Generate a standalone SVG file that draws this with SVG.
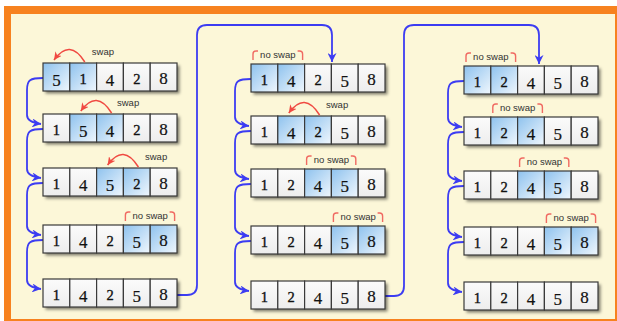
<svg xmlns="http://www.w3.org/2000/svg" width="617" height="321" viewBox="0 0 617 321">
<defs>
<style>
.c{fill:url(#gc);stroke:#3a3a3a;stroke-width:1.2}
.h{fill:url(#gh);stroke:#3a3a3a;stroke-width:1.2}
.bk{fill:#ddd;filter:url(#sh)}
.n1{font-family:"Liberation Serif",serif;font-size:14.5px;fill:#111;stroke:#111;stroke-width:0.35;text-anchor:middle}
.n4{font-family:"Liberation Serif",serif;font-size:17px;fill:#111;stroke:#111;stroke-width:0.2;text-anchor:middle}
.n8{font-family:"Liberation Serif",serif;font-size:17px;fill:#111;stroke:#111;stroke-width:0.2;text-anchor:middle}
.lb{font-family:"Liberation Sans",sans-serif;font-size:9.5px;fill:#333}
.lm{font-family:"Liberation Sans",sans-serif;font-size:9.5px;fill:#333;text-anchor:middle}
.sw{fill:none;stroke:#f04a42;stroke-width:1.5;marker-end:url(#ra)}
.br{fill:none;stroke:#f06a62;stroke-width:1.4}
.bl{fill:none;stroke:#3c3cf2;stroke-width:1.8;marker-end:url(#ba)}
</style>
<linearGradient id="gc" x1="0" y1="0" x2="0" y2="1"><stop offset="0" stop-color="#fbfbfb"/><stop offset="1" stop-color="#ededed"/></linearGradient>
<linearGradient id="gh" x1="0" y1="0" x2="1" y2="1"><stop offset="0" stop-color="#8ec2ee"/><stop offset="1" stop-color="#f0f7fd"/></linearGradient>
<filter id="sh" x="-10%" y="-20%" width="130%" height="160%"><feDropShadow dx="2.5" dy="2.5" stdDeviation="1.5" flood-color="#000" flood-opacity="0.5"/></filter>
<marker id="ba" viewBox="0 0 10 10" refX="10" refY="5" markerUnits="userSpaceOnUse" markerWidth="9" markerHeight="9" orient="auto"><path d="M0,0 L10,5 L0,10 L3,5 z" fill="#3c3cf2"/></marker>
<marker id="ra" viewBox="0 0 10 10" refX="10" refY="5" markerUnits="userSpaceOnUse" markerWidth="8" markerHeight="8" orient="auto"><path d="M0,0 L10,5 L0,10 L3,5 z" fill="#f04a42"/></marker>
</defs>
<rect width="617" height="321" fill="#fff"/>
<rect x="4" y="6" width="613" height="315" fill="#f7821f"/>
<rect x="11" y="14" width="604" height="305" fill="#fcf7d8"/>

<g id="connectors">
<path class="bl" d="M43,78 C30,78 27,80 27,90 V115 C27,120 33,123 41,124"/>
<path class="bl" d="M43,129 C30,129 27,131 27,141 V169 C27,174 33,177 41,178"/>
<path class="bl" d="M43,183 C30,183 27,185 27,195 V226 C27,231 33,234 41,235"/>
<path class="bl" d="M43,240 C30,240 27,242 27,252 V280 C27,285 33,288 41,289"/>
<path class="bl" d="M251,79 C238,79 235,81 235,91 V117 C235,122 241,125 249,126"/>
<path class="bl" d="M251,131 C238,131 235,133 235,143 V170 C235,175 241,178 249,179"/>
<path class="bl" d="M251,184 C238,184 235,186 235,196 V227 C235,232 241,235 249,236"/>
<path class="bl" d="M251,241 C238,241 235,243 235,253 V282 C235,287 241,290 249,291"/>
<path class="bl" d="M464,81 C451,81 448,83 448,93 V118 C448,123 454,126 462,127"/>
<path class="bl" d="M464,132 C451,132 448,134 448,144 V172 C448,177 454,180 462,181"/>
<path class="bl" d="M464,186 C451,186 448,188 448,198 V228 C448,233 454,236 462,237"/>
<path class="bl" d="M464,242 C451,242 448,244 448,254 V283 C448,288 454,291 462,292"/>
<path class="bl" d="M177,295 H187 Q197,295 197,285 V35 Q197,25 207,25 H322 Q332,25 332,35 V62"/>
<path class="bl" d="M385,296 H394 Q404,296 404,286 V35 Q404,25 414,25 H529 Q539,25 539,35 V64"/>
</g>

<!-- Column 1 -->
<g id="c1r1" transform="translate(43,63)">
<rect class="bk" width="134" height="28"/>
<rect class="h" x="0" width="26.8" height="28"/><rect class="h" x="26.8" width="26.8" height="28"/><rect class="c" x="53.6" width="26.8" height="28"/><rect class="c" x="80.4" width="26.8" height="28"/><rect class="c" x="107.2" width="26.8" height="28"/>
<text class="n4" x="13.4" y="23">5</text><text class="n1" x="40.2" y="21">1</text><text class="n4" x="67" y="23">4</text><text class="n1" x="93.8" y="21">2</text><text class="n8" x="120.6" y="21">8</text>
<path class="sw" d="M41.8,-1 Q26.8,-25 11,-3"/><text class="lb" x="48.8" y="-8">swap</text>
</g>
<g id="c1r2" transform="translate(43,114)">
<rect class="bk" width="134" height="28"/>
<rect class="c" x="0" width="26.8" height="28"/><rect class="h" x="26.8" width="26.8" height="28"/><rect class="h" x="53.6" width="26.8" height="28"/><rect class="c" x="80.4" width="26.8" height="28"/><rect class="c" x="107.2" width="26.8" height="28"/>
<text class="n1" x="13.4" y="21">1</text><text class="n4" x="40.2" y="23">5</text><text class="n4" x="67" y="23">4</text><text class="n1" x="93.8" y="21">2</text><text class="n8" x="120.6" y="21">8</text>
<path class="sw" d="M68.6,-1 Q53.6,-25 37.8,-3"/><text class="lb" x="74" y="-8">swap</text>
</g>
<g id="c1r3" transform="translate(43,168)">
<rect class="bk" width="134" height="28"/>
<rect class="c" x="0" width="26.8" height="28"/><rect class="c" x="26.8" width="26.8" height="28"/><rect class="h" x="53.6" width="26.8" height="28"/><rect class="h" x="80.4" width="26.8" height="28"/><rect class="c" x="107.2" width="26.8" height="28"/>
<text class="n1" x="13.4" y="21">1</text><text class="n4" x="40.2" y="23">4</text><text class="n4" x="67" y="23">5</text><text class="n1" x="93.8" y="21">2</text><text class="n8" x="120.6" y="21">8</text>
<path class="sw" d="M95.4,-1 Q80.4,-25 64.6,-3"/><text class="lb" x="102" y="-8">swap</text>
</g>
<g id="c1r4" transform="translate(43,225)">
<rect class="bk" width="134" height="28"/>
<rect class="c" x="0" width="26.8" height="28"/><rect class="c" x="26.8" width="26.8" height="28"/><rect class="c" x="53.6" width="26.8" height="28"/><rect class="h" x="80.4" width="26.8" height="28"/><rect class="h" x="107.2" width="26.8" height="28"/>
<text class="n1" x="13.4" y="21">1</text><text class="n4" x="40.2" y="23">4</text><text class="n1" x="67" y="21">2</text><text class="n4" x="93.8" y="23">5</text><text class="n8" x="120.6" y="21">8</text>
<path class="br" d="M82.4,-4 V-10 Q82.4,-13 85.4,-13 H87.4 M131.6,-4 V-10 Q131.6,-13 128.6,-13 H126.6"/><text class="lm" x="107.2" y="-6">no swap</text>
</g>
<g id="c1r5" transform="translate(43,279)">
<rect class="bk" width="134" height="28"/>
<rect class="c" x="0" width="26.8" height="28"/><rect class="c" x="26.8" width="26.8" height="28"/><rect class="c" x="53.6" width="26.8" height="28"/><rect class="c" x="80.4" width="26.8" height="28"/><rect class="c" x="107.2" width="26.8" height="28"/>
<text class="n1" x="13.4" y="21">1</text><text class="n4" x="40.2" y="23">4</text><text class="n1" x="67" y="21">2</text><text class="n4" x="93.8" y="23">5</text><text class="n8" x="120.6" y="21">8</text>
</g>

<!-- Column 2 -->
<g id="c2r1" transform="translate(251,64)">
<rect class="bk" width="134" height="28"/>
<rect class="h" x="0" width="26.8" height="28"/><rect class="h" x="26.8" width="26.8" height="28"/><rect class="c" x="53.6" width="26.8" height="28"/><rect class="c" x="80.4" width="26.8" height="28"/><rect class="c" x="107.2" width="26.8" height="28"/>
<text class="n1" x="13.4" y="21">1</text><text class="n4" x="40.2" y="23">4</text><text class="n1" x="67" y="21">2</text><text class="n4" x="93.8" y="23">5</text><text class="n8" x="120.6" y="21">8</text>
<path class="br" d="M2,-4 V-10 Q2,-13 5,-13 H7 M51.6,-4 V-10 Q51.6,-13 48.6,-13 H46.6"/><text class="lm" x="26.8" y="-6">no swap</text>
</g>
<g id="c2r2" transform="translate(251,116)">
<rect class="bk" width="134" height="28"/>
<rect class="c" x="0" width="26.8" height="28"/><rect class="h" x="26.8" width="26.8" height="28"/><rect class="h" x="53.6" width="26.8" height="28"/><rect class="c" x="80.4" width="26.8" height="28"/><rect class="c" x="107.2" width="26.8" height="28"/>
<text class="n1" x="13.4" y="21">1</text><text class="n4" x="40.2" y="23">4</text><text class="n1" x="67" y="21">2</text><text class="n4" x="93.8" y="23">5</text><text class="n8" x="120.6" y="21">8</text>
<path class="sw" d="M68.6,-1 Q53.6,-25 37.8,-3"/><text class="lb" x="75" y="-8">swap</text>
</g>
<g id="c2r3" transform="translate(251,169)">
<rect class="bk" width="134" height="28"/>
<rect class="c" x="0" width="26.8" height="28"/><rect class="c" x="26.8" width="26.8" height="28"/><rect class="h" x="53.6" width="26.8" height="28"/><rect class="h" x="80.4" width="26.8" height="28"/><rect class="c" x="107.2" width="26.8" height="28"/>
<text class="n1" x="13.4" y="21">1</text><text class="n1" x="40.2" y="21">2</text><text class="n4" x="67" y="23">4</text><text class="n4" x="93.8" y="23">5</text><text class="n8" x="120.6" y="21">8</text>
<path class="br" d="M55.6,-4 V-10 Q55.6,-13 58.6,-13 H60.6 M104.8,-4 V-10 Q104.8,-13 101.8,-13 H99.8"/><text class="lm" x="80.4" y="-6">no swap</text>
</g>
<g id="c2r4" transform="translate(251,226)">
<rect class="bk" width="134" height="28"/>
<rect class="c" x="0" width="26.8" height="28"/><rect class="c" x="26.8" width="26.8" height="28"/><rect class="c" x="53.6" width="26.8" height="28"/><rect class="h" x="80.4" width="26.8" height="28"/><rect class="h" x="107.2" width="26.8" height="28"/>
<text class="n1" x="13.4" y="21">1</text><text class="n1" x="40.2" y="21">2</text><text class="n4" x="67" y="23">4</text><text class="n4" x="93.8" y="23">5</text><text class="n8" x="120.6" y="21">8</text>
<path class="br" d="M82.4,-4 V-10 Q82.4,-13 85.4,-13 H87.4 M131.6,-4 V-10 Q131.6,-13 128.6,-13 H126.6"/><text class="lm" x="107.2" y="-6">no swap</text>
</g>
<g id="c2r5" transform="translate(251,281)">
<rect class="bk" width="134" height="28"/>
<rect class="c" x="0" width="26.8" height="28"/><rect class="c" x="26.8" width="26.8" height="28"/><rect class="c" x="53.6" width="26.8" height="28"/><rect class="c" x="80.4" width="26.8" height="28"/><rect class="c" x="107.2" width="26.8" height="28"/>
<text class="n1" x="13.4" y="21">1</text><text class="n1" x="40.2" y="21">2</text><text class="n4" x="67" y="23">4</text><text class="n4" x="93.8" y="23">5</text><text class="n8" x="120.6" y="21">8</text>
</g>

<!-- Column 3 -->
<g id="c3r1" transform="translate(464,66)">
<rect class="bk" width="134" height="28"/>
<rect class="h" x="0" width="26.8" height="28"/><rect class="h" x="26.8" width="26.8" height="28"/><rect class="c" x="53.6" width="26.8" height="28"/><rect class="c" x="80.4" width="26.8" height="28"/><rect class="c" x="107.2" width="26.8" height="28"/>
<text class="n1" x="13.4" y="21">1</text><text class="n1" x="40.2" y="21">2</text><text class="n4" x="67" y="23">4</text><text class="n4" x="93.8" y="23">5</text><text class="n8" x="120.6" y="21">8</text>
<path class="br" d="M2,-4 V-10 Q2,-13 5,-13 H7 M51.6,-4 V-10 Q51.6,-13 48.6,-13 H46.6"/><text class="lm" x="26.8" y="-6">no swap</text>
</g>
<g id="c3r2" transform="translate(464,117)">
<rect class="bk" width="134" height="28"/>
<rect class="c" x="0" width="26.8" height="28"/><rect class="h" x="26.8" width="26.8" height="28"/><rect class="h" x="53.6" width="26.8" height="28"/><rect class="c" x="80.4" width="26.8" height="28"/><rect class="c" x="107.2" width="26.8" height="28"/>
<text class="n1" x="13.4" y="21">1</text><text class="n1" x="40.2" y="21">2</text><text class="n4" x="67" y="23">4</text><text class="n4" x="93.8" y="23">5</text><text class="n8" x="120.6" y="21">8</text>
<path class="br" d="M28.8,-4 V-10 Q28.8,-13 31.8,-13 H33.8 M78.4,-4 V-10 Q78.4,-13 75.4,-13 H73.4"/><text class="lm" x="53.6" y="-6">no swap</text>
</g>
<g id="c3r3" transform="translate(464,171)">
<rect class="bk" width="134" height="28"/>
<rect class="c" x="0" width="26.8" height="28"/><rect class="c" x="26.8" width="26.8" height="28"/><rect class="h" x="53.6" width="26.8" height="28"/><rect class="h" x="80.4" width="26.8" height="28"/><rect class="c" x="107.2" width="26.8" height="28"/>
<text class="n1" x="13.4" y="21">1</text><text class="n1" x="40.2" y="21">2</text><text class="n4" x="67" y="23">4</text><text class="n4" x="93.8" y="23">5</text><text class="n8" x="120.6" y="21">8</text>
<path class="br" d="M55.6,-4 V-10 Q55.6,-13 58.6,-13 H60.6 M104.8,-4 V-10 Q104.8,-13 101.8,-13 H99.8"/><text class="lm" x="80.4" y="-6">no swap</text>
</g>
<g id="c3r4" transform="translate(464,227)">
<rect class="bk" width="134" height="28"/>
<rect class="c" x="0" width="26.8" height="28"/><rect class="c" x="26.8" width="26.8" height="28"/><rect class="c" x="53.6" width="26.8" height="28"/><rect class="h" x="80.4" width="26.8" height="28"/><rect class="h" x="107.2" width="26.8" height="28"/>
<text class="n1" x="13.4" y="21">1</text><text class="n1" x="40.2" y="21">2</text><text class="n4" x="67" y="23">4</text><text class="n4" x="93.8" y="23">5</text><text class="n8" x="120.6" y="21">8</text>
<path class="br" d="M82.4,-4 V-10 Q82.4,-13 85.4,-13 H87.4 M131.6,-4 V-10 Q131.6,-13 128.6,-13 H126.6"/><text class="lm" x="107.2" y="-6">no swap</text>
</g>
<g id="c3r5" transform="translate(464,282)">
<rect class="bk" width="134" height="28"/>
<rect class="c" x="0" width="26.8" height="28"/><rect class="c" x="26.8" width="26.8" height="28"/><rect class="c" x="53.6" width="26.8" height="28"/><rect class="c" x="80.4" width="26.8" height="28"/><rect class="c" x="107.2" width="26.8" height="28"/>
<text class="n1" x="13.4" y="21">1</text><text class="n1" x="40.2" y="21">2</text><text class="n4" x="67" y="23">4</text><text class="n4" x="93.8" y="23">5</text><text class="n8" x="120.6" y="21">8</text>
</g>
</svg>
